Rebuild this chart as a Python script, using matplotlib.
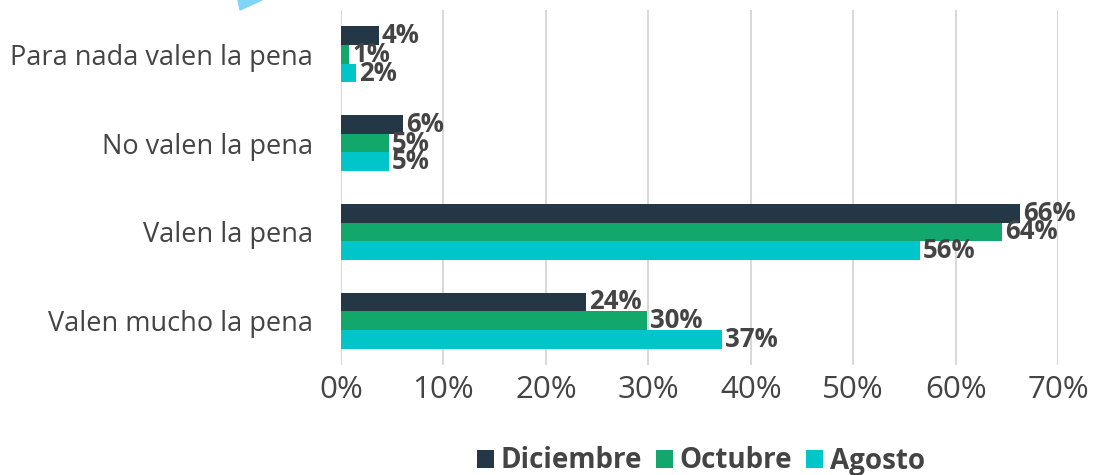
import numpy as np
import matplotlib.pyplot as plt
from matplotlib.patches import Polygon

plt.rcParams['font.family'] = ['Open Sans', 'DejaVu Sans']

categorias = ['Para nada valen la pena', 'No valen la pena', 'Valen la pena', 'Valen mucho la pena']
series = ['Diciembre', 'Octubre', 'Agosto']
colores = ['#243746', '#12a86b', '#00c6c9']

diciembre = [3.7, 6.1, 66.3, 23.9]
octubre = [0.8, 4.7, 64.5, 29.9]
agosto = [1.5, 4.7, 56.5, 37.2]
etiquetas = [['4%', '6%', '66%', '24%'],
             ['1%', '5%', '64%', '30%'],
             ['2%', '5%', '56%', '37%']]

texto = '#444444'

fig = plt.figure(figsize=(10.93, 4.75), dpi=100)
ax = fig.add_axes([341 / 1093, 1 - 365 / 475, (1058 - 341) / 1093, (365 - 10) / 475])

y = np.arange(len(categorias))
h = 0.21
for i, (vals, col) in enumerate(zip([diciembre, octubre, agosto], colores)):
    pos = y + (i - 1) * h
    ax.barh(pos, vals, height=h, color=col, label=series[i], zorder=3)
    for p, v, t in zip(pos, vals, etiquetas[i]):
        ax.text(v + 0.3, p, t, va='center', ha='left', fontsize=18.5,
                fontweight='bold', color=texto, zorder=4)

ax.set_ylim(3.5, -0.5)
ax.set_xlim(0, 70)
ax.set_xticks(np.arange(0, 71, 10))
ax.set_xticklabels([f'{v}%' for v in range(0, 71, 10)])
ax.set_yticks(y)
ax.set_yticklabels(categorias)
ax.tick_params(axis='x', labelsize=22.5, colors=texto, length=0, pad=7)
ax.tick_params(axis='y', labelsize=19.5, colors=texto, length=0, pad=20)
ax.grid(axis='x', color='#d9d9d9', linewidth=1.5, zorder=0)
for s in ax.spines.values():
    s.set_visible(False)

leg = fig.legend(loc='center', bbox_to_anchor=(701 / 1093, 1 - 461 / 475), ncol=3,
                 frameon=False, handlelength=0.6, handleheight=0.6,
                 handletextpad=0.25, columnspacing=0.5,
                 prop={'size': 20, 'weight': 'bold'})
for t in leg.get_texts():
    t.set_color(texto)

# adorno triangular arriba a la izquierda
tri = Polygon([[238 / 1093, 1], [262 / 1093, 1], [240 / 1093, 1 - 10 / 475]],
              closed=True, transform=fig.transFigure, color='#80d4f6')
fig.patches.append(tri)

fig.savefig('out.png', dpi=100)
